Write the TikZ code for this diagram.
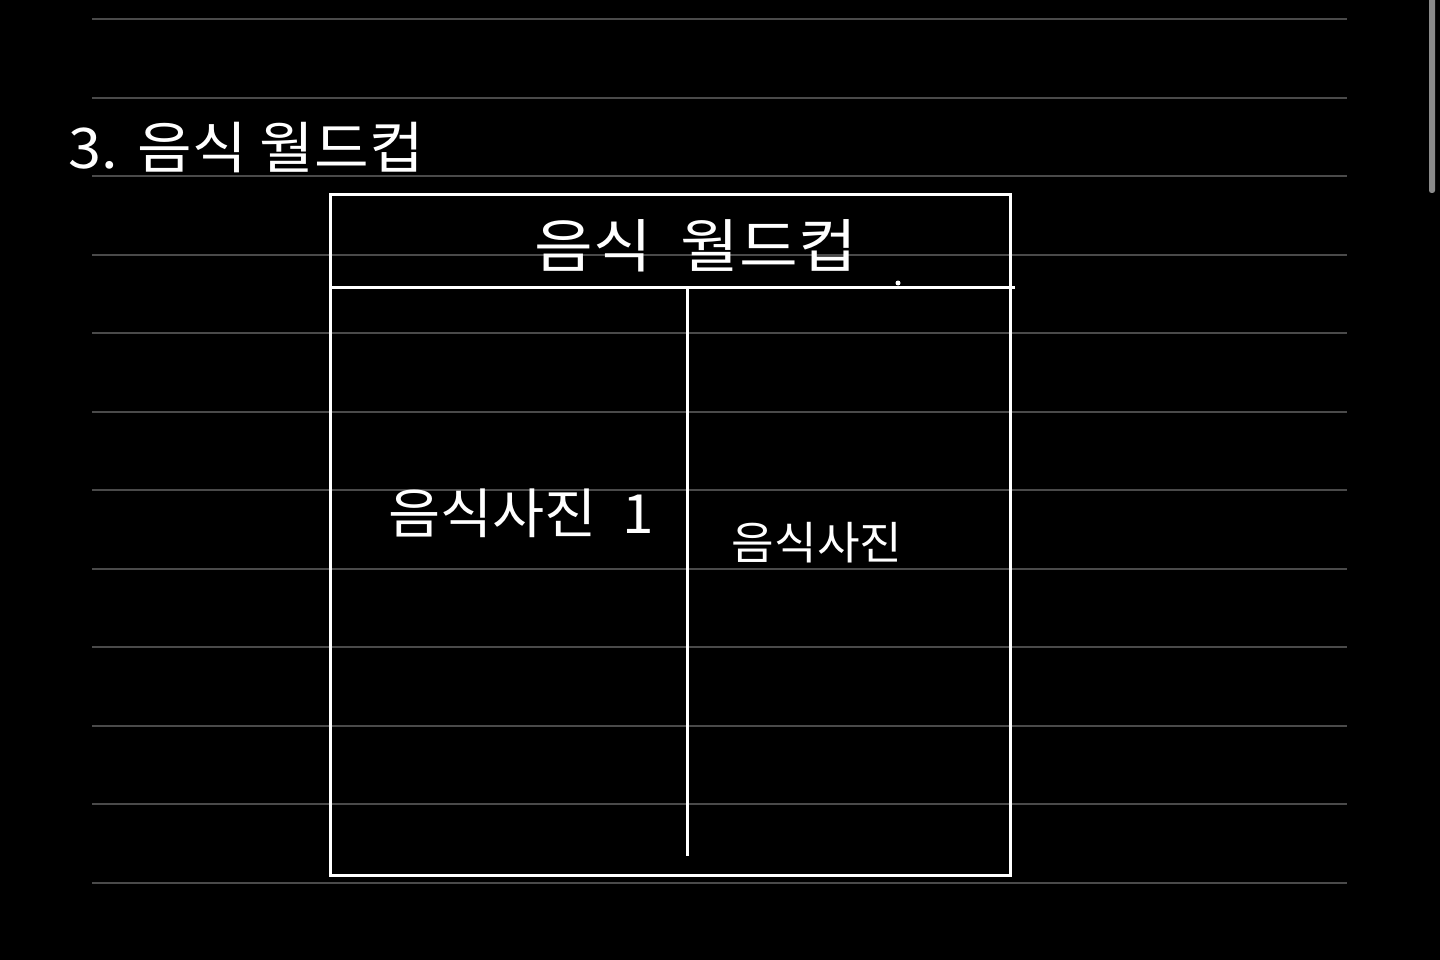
\documentclass[tikz,border=0pt]{standalone}
\usepackage{fontspec}
\newfontfamily\kr{Noto Sans CJK KR}
\definecolor{rule}{HTML}{4A4A4A}
\definecolor{scroll}{HTML}{8A8A8A}
\begin{document}
\begin{tikzpicture}[x=1pt,y=-1pt,
  ruleline/.style={draw=rule,line width=1.2pt},
  tableline/.style={draw=white,line width=3pt},
  hand/.style={text=white,inner sep=0pt,font=\kr},
]
\fill[black] (0,0) rectangle (1440,960);
\useasboundingbox (0,0) rectangle (1440,960);
% ruled lines
\foreach \y in {19,98,176,255,333,412,490,569,647,726,804,883}{
  \draw[ruleline] (92,\y) -- (1347,\y);
}
% scrollbar
\fill[scroll,rounded corners=2.5pt] (1429,-5) rectangle (1435,193);
% title
\node[hand,anchor=west,font=\kr\fontsize{56}{62}\selectfont,xscale=1.06] (title) at (68,148) {3.\,\,음식 월드컵};
% table
\coordinate (tl) at (330,195);
\coordinate (br) at (1010,875);
\coordinate (hl) at (330,287);
\coordinate (hr) at (1015,287);
\coordinate (vt) at (687,289);
\coordinate (vb) at (687,856);
\draw[tableline] (tl) rectangle (br);
\draw[tableline] (hl) -- (hr);
\draw[tableline] (vt) -- (vb);
\node[hand,font=\kr\fontsize{58}{64}\selectfont,xscale=1.1] (head) at (696,246) {음식\ \ 월드컵};
\fill[white] (898,283) circle (2.5);
\node[hand,font=\kr\fontsize{54}{60}\selectfont,xscale=1.05] (left) at (521,513) {음식사진\ \ 1};
\node[hand,font=\kr\fontsize{45}{50}\selectfont,xscale=1.03] (right) at (817,543) {음식사진};
\end{tikzpicture}
\end{document}
